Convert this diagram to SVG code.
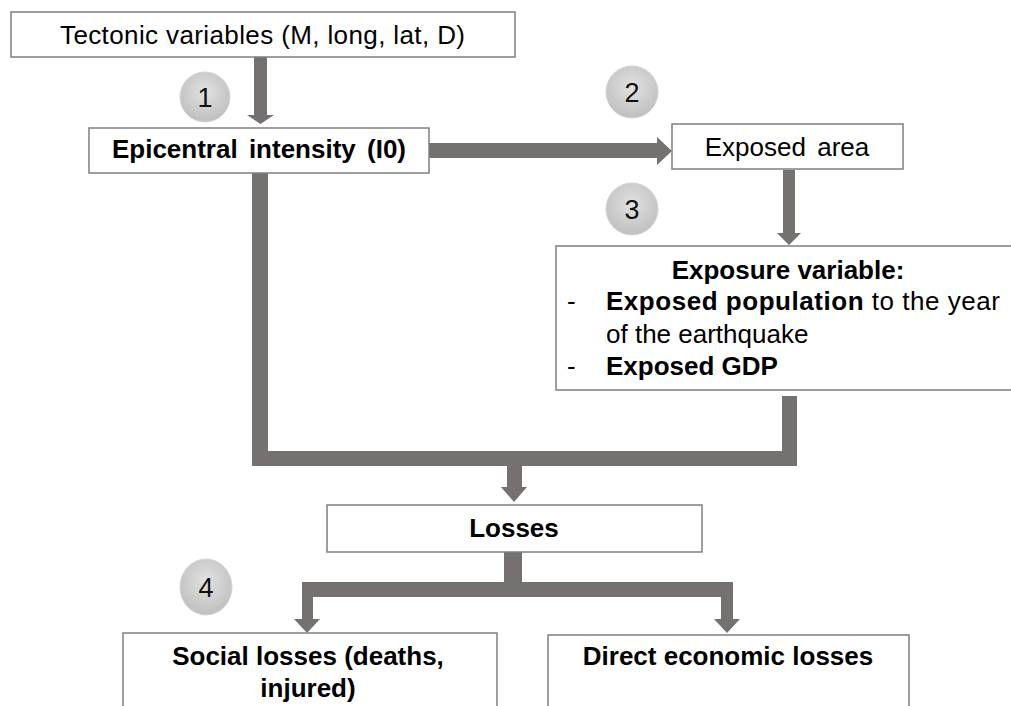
<svg xmlns="http://www.w3.org/2000/svg" width="1011" height="706" viewBox="0 0 1011 706">
<defs>
<radialGradient id="cg" cx="50%" cy="40%" r="60%">
<stop offset="0" stop-color="#e2e2e2"/>
<stop offset="1" stop-color="#bfbfbf"/>
</radialGradient>
<style>
.box{fill:#fff;stroke:#7f7f7f;stroke-width:1.5}
.arr{fill:#767171;stroke:none}
.circ{fill:url(#cg);stroke:#d4d4d4;stroke-width:1}
.t{font-family:"Liberation Sans",Arial,sans-serif;font-size:26px;fill:#000}
.b{font-weight:bold}
.num{font-family:"Liberation Sans",Arial,sans-serif;font-size:27px;fill:#111;text-anchor:middle}
</style>
</defs>
<rect width="1011" height="706" fill="#fff"/>
<g id="connectors">
<polygon class="arr" points="254,57 267,57 267,115 274,115 260.5,124 247,115 254,115"/>
<polygon class="arr" points="429,143 657,143 657,137 672,151 657,165 657,158 429,158"/>
<polygon class="arr" points="783,170 795,170 795,233 801,233 789,245 777,233 783,233"/>
<polygon class="arr" points="252,173 268,173 268,451 782,451 782,396 797,396 797,466 252,466"/>
<polygon class="arr" points="507,466 522,466 522,487 527,487 514,502 501,487 507,487"/>
<polygon class="arr" points="504,552 522,552 522,582 733,582 733,619 740,619 727,633 714,619 721,619 721,597 313,597 313,619 320,619 307,633 294,619 302,619 302,582 504,582"/>
</g>
<g id="n-tectonic">
<rect class="box" x="11" y="12" width="504" height="45"/>
<text class="t" x="60" y="44" textLength="405" lengthAdjust="spacing">Tectonic variables (M, long, lat, D)</text>
</g>
<g id="n-epicentral">
<rect class="box" x="89" y="128" width="340" height="45"/>
<text class="t b" x="259" y="158" text-anchor="middle" word-spacing="4">Epicentral intensity (I0)</text>
</g>
<g id="n-exposed-area">
<rect class="box" x="672" y="124" width="231" height="45"/>
<text class="t" x="787" y="156" text-anchor="middle" word-spacing="4">Exposed area</text>
</g>
<g id="n-exposure">
<rect class="box" x="556" y="246" width="460" height="144"/>
<text class="t b" x="788" y="279" text-anchor="middle">Exposure variable:</text>
<text class="t" x="567" y="310">-</text>
<text class="t" x="606" y="310" textLength="394" lengthAdjust="spacing"><tspan class="b">Exposed population</tspan> to the year</text>
<text class="t" x="606" y="343">of the earthquake</text>
<text class="t" x="567" y="375">-</text>
<text class="t b" x="606" y="375">Exposed GDP</text>
</g>
<g id="n-losses">
<rect class="box" x="327" y="505" width="375" height="47"/>
<text class="t b" x="514" y="537" text-anchor="middle">Losses</text>
</g>
<g id="n-social">
<rect class="box" x="123" y="633" width="374" height="80"/>
<text class="t b" x="308" y="665" text-anchor="middle">Social losses (deaths,</text>
<text class="t b" x="308" y="697" text-anchor="middle">injured)</text>
</g>
<g id="n-direct">
<rect class="box" x="548" y="635" width="361" height="80"/>
<text class="t b" x="728" y="665" text-anchor="middle">Direct economic losses</text>
</g>
<g id="step1"><circle class="circ" cx="205" cy="97" r="25"/><text class="num" x="205" y="107">1</text></g>
<g id="step2"><circle class="circ" cx="632" cy="92" r="26"/><text class="num" x="632" y="102">2</text></g>
<g id="step3"><circle class="circ" cx="632" cy="209" r="26"/><text class="num" x="632" y="219">3</text></g>
<g id="step4"><ellipse class="circ" cx="206" cy="587" rx="26" ry="28"/><text class="num" x="206" y="597">4</text></g>
</svg>
